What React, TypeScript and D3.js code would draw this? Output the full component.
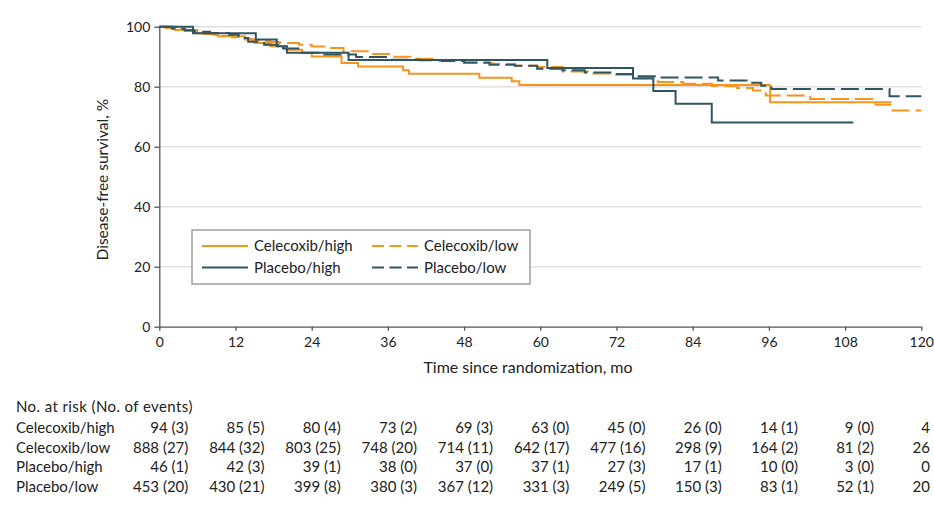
import { useEffect, useRef } from "react";
import * as d3 from "d3";

const WIDTH = 934;
const HEIGHT = 516;
const MARGIN = { top: 26.7, right: 12.7, bottom: 189.3, left: 159.3 };
const FONT = "Lato, 'Noto Sans', sans-serif";
const ORANGE = "#F7941D";
const TEAL = "#2F5563";

const xTicks = [0, 12, 24, 36, 48, 60, 72, 84, 96, 108, 120];
const yTicks = [0, 20, 40, 60, 80, 100];

// Kaplan-Meier steps: [month, survival %], last point = end of follow-up
const celecoxibHigh: [number, number][] = [
  [0, 100], [2.5, 98.9], [6, 97.8], [9.2, 96.8], [13.5, 95.7], [15, 94.6],
  [17.5, 93.5], [20, 92.3], [22.5, 91.2], [24, 90.1], [28.7, 87.9], [31.3, 86.7],
  [38.4, 85.5], [39.3, 84.3], [50.4, 83.0], [55.5, 81.8], [56.7, 80.6],
  [96.2, 74.8], [115.3, 74.8],
];
const celecoxibLow: [number, number][] = [
  [0, 100], [1, 99.6], [2.5, 99.1], [4, 98.6], [5.5, 98.1], [7, 97.6], [8.5, 97.3],
  [10, 96.9], [11.5, 96.5], [13, 96.0], [14.5, 95.6], [16, 95.2], [17.5, 94.9],
  [19, 94.6], [22, 94.0], [24, 93.4], [26, 92.9], [29, 91.8], [33, 90.9],
  [36.5, 90.0], [40, 89.3], [44, 88.8], [48, 87.9], [52.5, 87.6], [56, 87.0],
  [59.5, 86.6], [63.5, 85.1], [67.5, 84.4], [71.5, 84.0], [75.5, 83.2],
  [78.5, 81.6], [82.5, 81.0], [87, 80.2], [91, 79.6], [93.5, 78.7], [95.5, 77.1],
  [102.5, 75.9], [112.8, 74.0], [115.5, 72.1], [120, 72.1],
];
const placeboHigh: [number, number][] = [
  [0, 100], [5.3, 97.8], [15.2, 95.7], [18.5, 93.5], [20.1, 91.3], [29.8, 88.9],
  [61.1, 86.2], [74.6, 82.7], [77.8, 78.6], [81.3, 74.3], [87.0, 68.1], [109.3, 68.1],
];
const placeboLow: [number, number][] = [
  [0, 100], [2, 99.3], [4, 98.8], [5.5, 98.3], [8, 97.9], [11, 97.3], [12.5, 96.2],
  [14, 95.0], [16.5, 94.0], [19.5, 92.7], [22.5, 91.3], [26, 90.7], [31, 89.9],
  [36.5, 89.0], [41, 88.8], [44.5, 88.6], [48, 88.1], [52, 87.3], [56, 87.0],
  [59.5, 86.0], [63.5, 85.5], [67, 84.7], [71.5, 84.2], [75, 83.5], [78.5, 83.1],
  [88, 82.1], [92.5, 81.3], [94.8, 80.3], [96.4, 79.2], [115, 76.8], [120, 76.8],
];

const seriesNames = ["Celecoxib/high", "Celecoxib/low", "Placebo/high", "Placebo/low"];
const seriesData = [celecoxibHigh, celecoxibLow, placeboHigh, placeboLow];
const seriesColors = [ORANGE, ORANGE, TEAL, TEAL];
const seriesDashed = [false, true, false, true];

const riskMonths = [0, 12, 24, 36, 48, 60, 72, 84, 96, 108, 120];
const celecoxibHighRisk = ["94 (3)", "85 (5)", "80 (4)", "73 (2)", "69 (3)", "63 (0)", "45 (0)", "26 (0)", "14 (1)", "9 (0)", "4"];
const celecoxibLowRisk = ["888 (27)", "844 (32)", "803 (25)", "748 (20)", "714 (11)", "642 (17)", "477 (16)", "298 (9)", "164 (2)", "81 (2)", "26"];
const placeboHighRisk = ["46 (1)", "42 (3)", "39 (1)", "38 (0)", "37 (0)", "37 (1)", "27 (3)", "17 (1)", "10 (0)", "3 (0)", "0"];
const placeboLowRisk = ["453 (20)", "430 (21)", "399 (8)", "380 (3)", "367 (12)", "331 (3)", "249 (5)", "150 (3)", "83 (1)", "52 (1)", "20"];
const riskRows = [celecoxibHighRisk, celecoxibLowRisk, placeboHighRisk, placeboLowRisk];

export default function App() {
  const xAxisRef = useRef<SVGGElement>(null);
  const yAxisRef = useRef<SVGGElement>(null);

  const xScale = d3.scaleLinear().domain([0, 120]).range([MARGIN.left, WIDTH - MARGIN.right]);
  const yScale = d3.scaleLinear().domain([0, 100]).range([HEIGHT - MARGIN.bottom, MARGIN.top]);

  const line = d3
    .line<[number, number]>()
    .x((d) => xScale(d[0]))
    .y((d) => yScale(d[1]))
    .curve(d3.curveStepAfter);

  useEffect(() => {
    const xg = d3.select(xAxisRef.current!);
    xg.selectAll("*").remove();
    xg.call(d3.axisBottom(xScale).tickValues(xTicks).tickSize(4).tickPadding(6).tickSizeOuter(0))
      .call((g) => g.select(".domain").attr("stroke", "#555").attr("stroke-width", 1.3))
      .call((g) => g.selectAll(".tick line").attr("stroke", "#555").attr("stroke-width", 1.3))
      .call((g) =>
        g.selectAll(".tick text").attr("fill", "#222").attr("font-size", 14).attr("font-family", FONT)
      );

    const yg = d3.select(yAxisRef.current!);
    yg.selectAll("*").remove();
    yg.call(d3.axisLeft(yScale).tickValues(yTicks).tickSize(5).tickPadding(4).tickSizeOuter(0))
      .call((g) => g.select(".domain").attr("stroke", "#555").attr("stroke-width", 1.3))
      .call((g) => g.selectAll(".tick line").attr("stroke", "#555").attr("stroke-width", 1.3))
      .call((g) =>
        g.selectAll(".tick text").attr("fill", "#222").attr("font-size", 14).attr("font-family", FONT)
      );
  }, []);

  const legendX = 192;
  const legendY = 230;

  return (
    <svg
      width={WIDTH}
      height={HEIGHT}
      style={{ position: "absolute", left: 0, top: 0, background: "#fff" }}
      fontFamily={FONT}
    >
      {/* grid */}
      {yTicks.filter((t) => t > 0).map((t) => (
        <line
          key={t}
          x1={xScale(0)}
          x2={xScale(120)}
          y1={yScale(t)}
          y2={yScale(t)}
          stroke="#e0e0e0"
          strokeWidth={1.5}
        />
      ))}

      {/* curves */}
      {seriesData.map((d, i) => (
        <path
          key={seriesNames[i]}
          d={line(d) ?? ""}
          fill="none"
          stroke={seriesColors[i]}
          strokeWidth={2}
          strokeDasharray={seriesDashed[i] ? "18,6" : undefined}
        />
      ))}

      <g ref={xAxisRef} transform={`translate(0,${yScale(0)})`} />
      <g ref={yAxisRef} transform={`translate(${xScale(0)},0)`} />

      <text x={528} y={373} textAnchor="middle" fontSize={16} fill="#222">
        Time since randomization, mo
      </text>
      <text
        transform={`translate(108,${(yScale(0) + yScale(100)) / 2 + 3}) rotate(-90)`}
        textAnchor="middle"
        fontSize={15.5}
        fill="#222"
      >
        Disease-free survival, %
      </text>

      {/* legend */}
      <rect x={legendX} y={legendY} width={338} height={54} fill="#fff" stroke="#888" strokeWidth={1.2} />
      {seriesNames.map((name, i) => {
        const col = i % 2;
        const row = Math.floor(i / 2);
        const lx = legendX + 10 + col * 170;
        const ly = legendY + 16 + row * 21.5;
        return (
          <g key={name}>
            <line
              x1={lx}
              x2={lx + 46}
              y1={ly}
              y2={ly}
              stroke={seriesColors[i]}
              strokeWidth={2}
              strokeDasharray={seriesDashed[i] ? "12,5.5" : undefined}
            />
            <text x={lx + 52} y={ly + 5} fontSize={15} fill="#222">
              {name}
            </text>
          </g>
        );
      })}

      {/* risk table */}
      <text x={16} y={412} fontSize={15} fill="#222" letterSpacing={0.4}>
        No. at risk (No. of events)
      </text>
      {riskRows.map((row, r) => (
        <g key={seriesNames[r]}>
          <text x={16} y={433 + r * 19.6} fontSize={15} fill="#222">
            {seriesNames[r]}
          </text>
          {row.map((v, c) => (
            <text
              key={c}
              x={Math.min(xScale(riskMonths[c]) + 29, 930)}
              y={433 + r * 19.6}
              textAnchor="end"
              fontSize={15}
              fill="#222"
            >
              {v}
            </text>
          ))}
        </g>
      ))}
    </svg>
  );
}
